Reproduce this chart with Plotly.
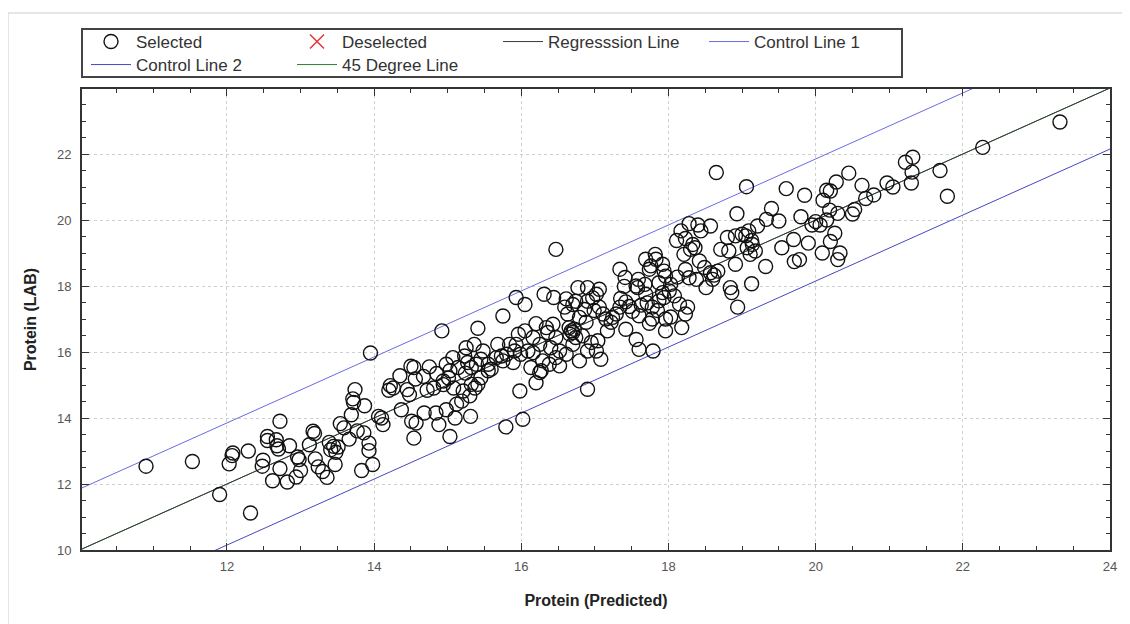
import plotly.graph_objects as go

# ---------------- data ----------------
predicted = [
    10.90, 11.53, 11.90, 12.32, 12.03, 12.08, 12.07, 12.29, 12.48, 12.49, 12.55, 12.55, 12.62, 12.67, 12.68,
    12.70, 12.72, 12.72, 12.82, 12.85, 12.94, 12.96, 12.98, 13.00, 13.12, 13.17, 13.19, 13.20, 13.24, 13.30,
    13.36, 13.39, 13.41, 13.45, 13.47, 13.48, 13.51, 13.54, 13.59, 13.66, 13.69, 13.71, 13.72, 13.74, 13.77,
    13.83, 13.86, 13.87, 13.93, 13.93, 13.98, 14.06, 14.10, 14.12, 14.20, 14.22, 14.26, 14.35, 14.37, 14.45,
    14.48, 14.51, 14.54, 14.57, 14.67, 14.68, 14.72, 14.81, 14.84, 14.88, 14.94, 14.98, 15.01, 15.03, 15.08,
    15.10, 15.19, 15.24, 15.31, 15.37,
    13.95, 14.50, 14.56, 15.12, 15.21, 15.30, 15.32, 14.94, 14.75, 14.85, 14.54,
    18.65, 19.06, 19.60, 18.93, 19.40, 19.50, 19.33, 19.21, 19.09, 19.05, 19.13, 19.14, 19.07, 19.18, 19.11,
    18.91, 19.00, 18.80, 18.71, 18.82, 18.91, 19.32, 19.13, 19.54, 19.70, 19.71, 18.94, 18.84, 18.86, 18.57,
    18.44, 18.28, 18.40, 18.33, 18.30, 18.36, 18.17, 18.11, 18.23, 18.21, 18.42, 18.49, 18.57, 18.62, 18.67,
    18.60, 18.51, 18.38, 18.28, 18.23, 18.12, 18.03, 18.01, 18.08, 17.94, 17.92, 17.87, 17.96, 18.03, 18.18,
    18.23, 18.26, 18.15, 17.96, 17.82, 17.83, 17.92, 17.94, 17.96, 17.87, 17.76, 17.69, 17.74, 17.59, 17.58,
    17.68, 17.69, 17.71, 17.63, 17.78, 17.85, 17.78, 17.74, 17.60, 17.51, 17.47, 17.42, 17.35, 17.34, 17.41,
    17.40, 17.56, 17.34, 17.29, 17.24, 17.22, 17.15, 17.17, 17.42, 17.56, 17.60, 17.79, 17.06, 17.02, 16.90,
    16.97, 17.06, 17.11, 16.99, 16.90, 16.86, 16.77, 16.74, 16.70, 16.79, 16.88, 16.63, 16.59, 16.61, 16.65,
    16.68, 16.70, 16.72, 16.66, 16.74, 16.83, 16.95, 17.04, 17.02, 17.08, 16.90, 16.70, 16.79, 16.90, 16.47,
    16.31, 16.44, 15.93, 16.05, 15.75, 15.41, 14.92, 16.20, 16.34, 16.43, 16.47, 16.36, 16.16, 16.25, 16.40,
    16.52, 16.61, 16.47, 16.29, 16.16, 16.09, 15.96, 16.05, 15.93, 15.91, 15.84, 15.80, 15.73, 15.68, 15.66,
    15.75, 15.89, 15.99, 16.13, 16.27, 16.25, 16.20, 16.52, 16.38, 15.98, 15.79, 16.02, 15.55, 15.59, 15.55,
    15.45, 15.39, 15.48, 15.36, 15.25, 15.23, 15.27, 15.32, 15.45, 15.41, 14.98, 15.07, 15.14, 15.03,
    23.32, 22.27, 21.79, 21.69, 21.32, 21.22, 21.31, 21.30, 20.97, 21.05, 20.79, 20.68, 20.63, 20.53, 20.50,
    20.45, 20.28, 20.20, 20.15, 20.10, 20.19, 20.30, 20.15, 20.26, 20.33, 20.06, 20.00, 20.09, 20.20, 20.30,
    19.85, 19.90, 19.78, 19.95, 19.80,
]
lab = [
    12.54, 12.68, 11.68, 11.12, 12.61, 12.94, 12.86, 13.00, 12.54, 12.72, 13.44, 13.32, 12.10, 13.34, 13.16,
    13.06, 13.90, 12.47, 12.06, 13.16, 12.21, 12.82, 12.74, 12.41, 13.19, 13.60, 13.53, 12.76, 12.52, 12.38,
    12.20, 13.26, 13.04, 13.14, 12.59, 12.96, 13.12, 13.83, 13.70, 13.36, 14.10, 14.58, 14.47, 14.86, 13.61,
    12.41, 13.55, 14.37, 13.24, 13.01, 12.59, 14.05, 14.00, 13.80, 14.84, 14.98, 14.91, 15.28, 14.25, 14.86,
    14.71, 13.90, 13.39, 13.85, 15.26, 14.15, 14.84, 14.91, 14.15, 13.80, 15.01, 14.25, 15.21, 13.44, 14.91,
    14.00, 14.51, 15.36, 14.05, 14.91,
    15.97, 15.57, 15.18, 14.42, 14.82, 14.67, 15.02, 15.12, 15.55, 15.35, 15.53,
    21.44, 21.01, 20.95, 20.19, 20.35, 19.97, 20.02, 19.82, 19.67, 19.52, 19.38, 19.26, 19.16, 19.06, 18.96,
    19.52, 19.57, 19.47, 19.11, 19.06, 18.66, 18.59, 18.07, 19.16, 19.41, 18.74, 17.36, 17.95, 17.80, 19.82,
    19.67, 19.89, 19.85, 19.26, 19.11, 19.16, 19.67, 19.38, 19.44, 18.96, 18.76, 18.56, 18.40, 18.33, 18.45,
    18.20, 17.95, 18.20, 18.25, 18.50, 18.27, 18.05, 17.85, 17.70, 17.65, 17.80, 17.55, 17.00, 17.06, 16.74,
    17.15, 17.36, 17.45, 16.64, 18.96, 18.81, 18.66, 18.45, 18.30, 18.10, 18.61, 18.81, 18.51, 18.20, 17.95,
    18.05, 17.75, 17.49, 17.42, 17.36, 17.26, 17.00, 16.87, 17.10, 17.23, 17.38, 17.52, 17.62, 18.51, 18.26,
    17.99, 18.00, 17.36, 17.15, 17.05, 16.90, 17.00, 16.64, 16.69, 16.38, 16.08, 16.03, 17.90, 17.75, 17.95,
    17.64, 17.36, 17.15, 17.26, 17.54, 17.29, 17.95, 17.54, 17.44, 17.05, 16.90, 17.15, 17.36, 17.61, 16.74,
    16.64, 16.59, 16.69, 16.54, 16.44, 16.49, 16.29, 16.34, 16.03, 15.78, 16.03, 16.23, 15.73, 14.87, 19.11,
    17.75, 17.65, 17.65, 17.44, 17.09, 16.72, 16.64, 16.86, 16.74, 16.84, 16.44, 16.59, 16.44, 16.23, 16.13,
    16.03, 15.93, 15.83, 15.73, 15.98, 16.03, 16.54, 16.64, 16.23, 16.03, 16.23, 15.93, 15.88, 16.23, 15.83,
    15.73, 15.68, 15.93, 15.53, 15.43, 15.38, 15.07, 15.58, 15.63, 14.82, 13.73, 13.96, 15.43, 15.48, 15.63,
    15.78, 15.63, 16.03, 16.23, 16.13, 15.88, 15.68, 15.53, 15.22, 15.02, 15.63, 15.83, 15.53, 15.43,
    22.97, 22.20, 20.72, 21.50, 21.90, 21.75, 21.45, 21.12, 21.12, 21.00, 20.76, 20.65, 21.05, 20.32, 20.18,
    21.42, 21.15, 20.88, 20.90, 20.60, 20.30, 20.20, 20.00, 19.60, 19.00, 19.85, 19.95, 19.00, 19.35, 18.80,
    20.75, 19.30, 18.80, 19.85, 20.10,
]

reg_slope = 1.0
reg_intercept = 0.0
control_offset = 1.85
x_range = [10.03, 24.0]
y_range = [10.0, 23.97]
x_ticks = [12, 14, 16, 18, 20, 22, 24]
y_ticks = [10, 12, 14, 16, 18, 20, 22]

line_x = x_range
reg_y = [reg_slope * v + reg_intercept for v in line_x]
ctl1_y = [v + control_offset for v in reg_y]
ctl2_y = [v - control_offset for v in reg_y]
deg45_y = list(line_x)

FONT = "Arial, Liberation Sans, sans-serif"

# ---------------- figure ----------------
fig = go.Figure()
fig.add_trace(go.Scatter(x=line_x, y=deg45_y, mode="lines", name="45 Degree Line",
                         line=dict(color="#2e7d32", width=1), legend="legend2", legendrank=2))
fig.add_trace(go.Scatter(x=line_x, y=reg_y, mode="lines", name="Regresssion Line",
                         line=dict(color="#3a3a3a", width=1), legendrank=3))
fig.add_trace(go.Scatter(x=line_x, y=ctl1_y, mode="lines", name="Control Line 1",
                         line=dict(color="#6a6ae6", width=1), legendrank=4))
fig.add_trace(go.Scatter(x=line_x, y=ctl2_y, mode="lines", name="Control Line 2",
                         line=dict(color="#4646c4", width=1), legend="legend2", legendrank=1))
fig.add_trace(go.Scatter(x=predicted, y=lab, mode="markers", name="Selected",
                         marker=dict(symbol="circle-open", size=14, color="#111111",
                                     line=dict(width=1.4, color="#111111")), legendrank=1))
fig.add_trace(go.Scatter(x=[None], y=[None], mode="markers", name="Deselected",
                         marker=dict(symbol="x-thin-open", size=14, color="#e8333a",
                                     line=dict(width=1.5, color="#e8333a")), legendrank=2))

# page body adds an 8px margin, so figure coordinates = screen coordinates - 8
OFF = 8
W, H = 1130 - OFF, 624 - OFF
L, R, T, B = 82 - OFF, 20, 89 - OFF, 74
pw, ph = W - L - R, H - T - B

def px_x(p):
    return (p - OFF - L) / pw

def px_y(p):
    return (H - B - (p - OFF)) / ph

axis_common = dict(
    showline=True, linecolor="#333333", linewidth=2, mirror="allticks",
    ticks="inside", ticklen=7, tickcolor="#333333", tickwidth=1,
    showgrid=True, gridcolor="#cfcfcf", griddash="dot", gridwidth=1,
    zeroline=False,
    tickfont=dict(family=FONT, size=13, color="#555555"),
    minor=dict(tickmode="linear", tick0=0, dtick=0.5, ticks="inside", ticklen=4,
               tickcolor="#333333", showgrid=False),
)

fig.update_xaxes(range=x_range, tickmode="array", tickvals=x_ticks, ticklabelstandoff=3,
                 title=dict(text="<b>Protein (Predicted)</b>", standoff=22,
                            font=dict(family=FONT, size=16, color="#222222")),
                 **axis_common)
fig.update_yaxes(range=y_range, tickmode="array", tickvals=y_ticks, ticklabelstandoff=6,
                 title=dict(text="<b>Protein (LAB)</b>", standoff=16,
                            font=dict(family=FONT, size=16, color="#222222")),
                 **axis_common)

legend_common = dict(orientation="h", xanchor="left", yanchor="top",
                     entrywidth=151, entrywidthmode="pixels", itemwidth=40,
                     bgcolor="rgba(0,0,0,0)", borderwidth=0,
                     font=dict(family=FONT, size=17, color="#333333"),
                     tracegroupgap=0)

fig.update_layout(
    width=W, height=H,
    margin=dict(l=L, r=R, t=T, b=B, autoexpand=False),
    paper_bgcolor="white", plot_bgcolor="white",
    showlegend=True,
    legend=dict(x=px_x(86), y=px_y(24), **legend_common),
    legend2=dict(x=px_x(86), y=px_y(47), **legend_common),
    shapes=[
        dict(type="line", xref="paper", yref="paper", x0=px_x(8), x1=px_x(1130),
             y0=px_y(13), y1=px_y(13), line=dict(color="#cccccc", width=1)),
        dict(type="line", xref="paper", yref="paper", x0=px_x(8), x1=px_x(8),
             y0=px_y(13), y1=px_y(624), line=dict(color="#cccccc", width=1)),
        dict(type="rect", xref="paper", yref="paper", x0=px_x(82), x1=px_x(902),
             y0=px_y(77), y1=px_y(29), line=dict(color="#444444", width=2),
             fillcolor="rgba(0,0,0,0)", layer="above"),
    ],
)

fig.write_html("out.html")
